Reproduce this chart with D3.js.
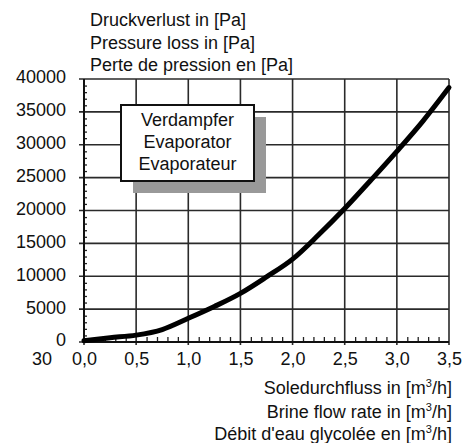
<!DOCTYPE html>
<html><head><meta charset="utf-8">
<script src="https://cdn.jsdelivr.net/npm/d3@7"></script>
<style>
html,body{margin:0;padding:0;background:#fff;}
svg text{font-family:"Liberation Sans",Arial,sans-serif;fill:#111;}
</style></head>
<body><svg id="c" width="462" height="443"></svg>
<script>
const flowRate = [0, 0.25, 0.5, 0.75, 1.0, 1.25, 1.5, 1.75, 2.0, 2.25, 2.5, 2.75, 3.0, 3.25, 3.5];
const pressureLoss = [200, 650, 1050, 1900, 3600, 5400, 7400, 9900, 12600, 16300, 20300, 24600, 29000, 33600, 38700];
const xTicks = [0, 0.5, 1.0, 1.5, 2.0, 2.5, 3.0, 3.5];
const xTickLabels = ["0,0", "0,5", "1,0", "1,5", "2,0", "2,5", "3,0", "3,5"];
const yTicks = [0, 5000, 10000, 15000, 20000, 25000, 30000, 35000, 40000];
const yTitleLines = ["Druckverlust in [Pa]", "Pressure loss in [Pa]", "Perte de pression en [Pa]"];
const boxLines = ["Verdampfer", "Evaporator", "Evaporateur"];
const xTitleLines = [["Soledurchfluss in [m", "3", "/h]"], ["Brine flow rate in [m", "3", "/h]"], ["Débit d'eau glycolée en [m", "3", "/h]"]];
const strayLabel = "30";

const svg = d3.select("#c");
const L = 84, R = 449, T = 79, B = 342;
const x = d3.scaleLinear().domain([0, 3.5]).range([L, R]);
const y = d3.scaleLinear().domain([0, 40000]).range([B, T]);
const fs = 18;

// grid lines
const g = svg.append("g");
g.selectAll("line.h").data(yTicks).join("line")
  .attr("x1", L - 5).attr("x2", R).attr("y1", d => y(d)).attr("y2", d => y(d))
  .attr("stroke", "#2a2a2a").attr("stroke-width", 1.6);
g.selectAll("line.v").data(xTicks).join("line")
  .attr("x1", d => x(d)).attr("x2", d => x(d)).attr("y1", T).attr("y2", B + 3)
  .attr("stroke", "#2a2a2a").attr("stroke-width", 1.6);

// minor ticks via axes
const yMinor = d3.range(0, 40001, 1000).filter(v => v % 5000 !== 0);
const yAxisMinor = d3.axisRight(y).tickValues(yMinor).tickSize(3).tickFormat("");
svg.append("g").attr("transform", `translate(${L},0)`).call(yAxisMinor)
  .call(s => s.select(".domain").remove())
  .call(s => s.selectAll("line").attr("stroke", "#222").attr("stroke-width", 1.3));
const xMinor = d3.range(1, 35).map(i => i / 10).filter(v => Math.abs(v * 2 - Math.round(v * 2)) > 1e-6);
const xAxisMinor = d3.axisTop(x).tickValues(xMinor).tickSize(5).tickFormat("");
svg.append("g").attr("transform", `translate(0,${B})`).call(xAxisMinor)
  .call(s => s.select(".domain").remove())
  .call(s => s.selectAll("line").attr("stroke", "#222").attr("stroke-width", 1.3));

// axis lines
svg.append("line").attr("x1", L).attr("x2", L).attr("y1", T).attr("y2", B).attr("stroke", "#111").attr("stroke-width", 2);
svg.append("line").attr("x1", L).attr("x2", R).attr("y1", B).attr("y2", B).attr("stroke", "#111").attr("stroke-width", 2);

// y tick labels
const yAxis = d3.axisLeft(y).tickValues(yTicks).tickSize(0).tickPadding(18).tickFormat(d3.format("d"));
svg.append("g").attr("transform", `translate(${L},0)`).call(yAxis)
  .call(s => s.select(".domain").remove())
  .call(s => s.selectAll("text").attr("font-size", fs).attr("font-family", null).attr("dy", "0.22em").attr("fill", "#111"));

// x tick labels
const xAxis = d3.axisBottom(x).tickValues(xTicks).tickSize(0).tickPadding(10).tickFormat((d, i) => xTickLabels[i]);
svg.append("g").attr("transform", `translate(0,${B})`).call(xAxis)
  .call(s => s.select(".domain").remove())
  .call(s => s.selectAll("text").attr("font-size", fs).attr("font-family", null).attr("dy", "0.71em").attr("fill", "#111"));

svg.append("text").attr("x", 52).attr("y", 365).attr("text-anchor", "end").attr("font-size", fs).text(strayLabel);

// titles
svg.selectAll("text.yt").data(yTitleLines).join("text").attr("class", "yt")
  .attr("x", 90).attr("y", (d, i) => 26 + i * 22.5).attr("font-size", fs).text(d => d);

const xt = svg.selectAll("text.xt").data(xTitleLines).join("text").attr("class", "xt")
  .attr("x", 452).attr("y", (d, i) => [394, 418, 440][i]).attr("text-anchor", "end").attr("font-size", fs);
xt.append("tspan").text(d => d[0]);
xt.append("tspan").attr("font-size", 11).attr("dy", -7).text(d => d[1]);
xt.append("tspan").attr("dy", 7).text(d => d[2]);

// curve
const line = d3.line().x((d, i) => x(flowRate[i])).y(d => y(d)).curve(d3.curveMonotoneX);
svg.append("path").datum(pressureLoss).attr("d", line)
  .attr("fill", "none").attr("stroke", "#000").attr("stroke-width", 5).attr("stroke-linecap", "round");

// legend box
svg.append("rect").attr("x", 133).attr("y", 117).attr("width", 133).attr("height", 76).attr("fill", "#999");
svg.append("rect").attr("x", 121).attr("y", 105).attr("width", 133).attr("height", 76)
  .attr("fill", "#fff").attr("stroke", "#111").attr("stroke-width", 2);
svg.selectAll("text.bx").data(boxLines).join("text").attr("class", "bx")
  .attr("x", 187.5).attr("y", (d, i) => 126 + i * 22).attr("text-anchor", "middle").attr("font-size", fs).text(d => d);
</script></body></html>
